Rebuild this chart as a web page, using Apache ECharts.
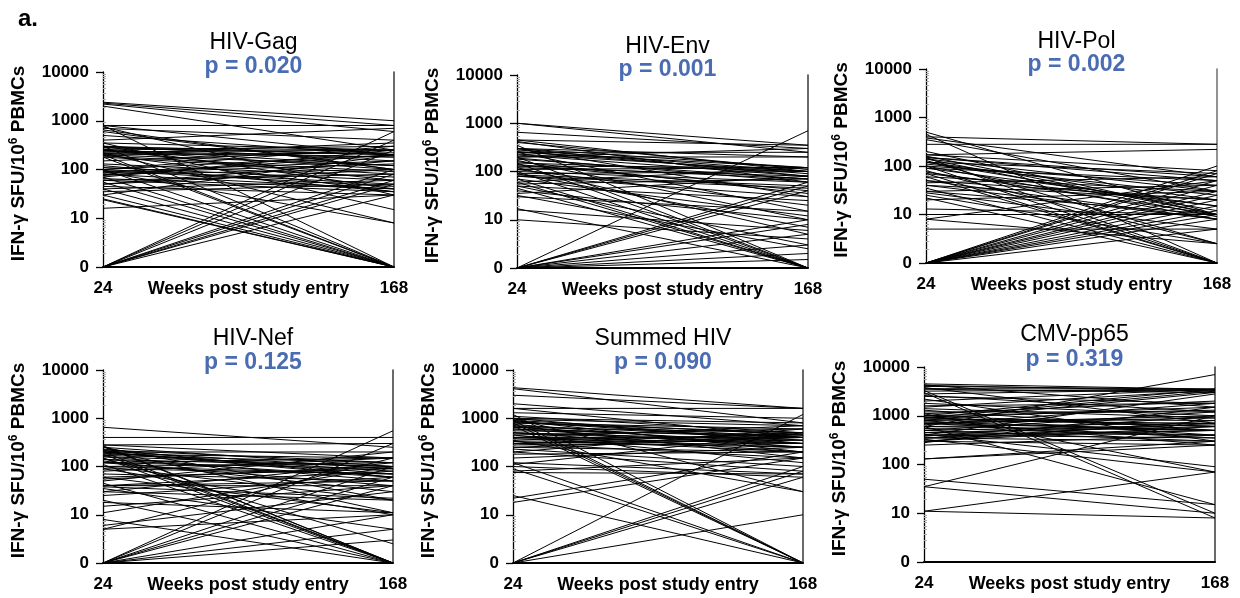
<!DOCTYPE html>
<html>
<head>
<meta charset="utf-8">
<script src="https://cdn.jsdelivr.net/npm/echarts@6/dist/echarts.min.js"></script>
<style>
  html, body { margin: 0; padding: 0; background: #fff; }
  #chart { width: 1240px; height: 598px; }
</style>
</head>
<body>
<div id="chart"></div>
<script>
// values at week 24 and week 168, one entry per subject (0 = no response)
var gag24  = [2400, 2300, 2000, 2200, 800, 800, 800, 750, 700, 650, 400, 350, 350, 300, 300, 300, 280, 250, 250, 250, 230, 220, 220, 200, 200, 200, 180, 180, 150, 100, 100, 100, 100, 90, 90, 80, 80, 70, 70, 60, 60, 55, 50, 50, 45, 40, 40, 35, 30, 30, 25, 24, 16, 0, 0, 0, 0, 0, 0, 0, 0, 0, 0, 120, 130, 600, 500, 300, 280, 260, 240, 200, 190, 110, 95, 85, 65, 75, 210];
var gag168 = [1000, 800, 250, 600, 800, 200, 0, 30, 400, 100, 700, 250, 15, 150, 40, 0, 200, 300, 100, 60, 250, 8, 180, 0, 120, 35, 80, 0, 250, 200, 0, 50, 300, 150, 8, 40, 100, 0, 250, 35, 80, 0, 100, 150, 30, 60, 0, 50, 200, 0, 0, 0, 30, 600, 400, 250, 100, 80, 60, 50, 30, 0, 0, 35, 70, 100, 200, 200, 250, 120, 180, 220, 90, 60, 45, 130, 40, 200, 350];

var env24  = [1000, 1000, 650, 450, 450, 420, 350, 300, 300, 280, 250, 250, 220, 200, 200, 180, 170, 150, 150, 140, 120, 120, 110, 100, 100, 90, 90, 80, 70, 60, 55, 50, 50, 45, 40, 35, 32, 30, 17, 16, 10, 0, 0, 0, 0, 0, 0, 0, 0, 0, 0, 0, 200, 130, 60, 80, 300, 250, 300, 260, 230, 190, 160, 130, 110, 85, 70, 400, 0, 0];
var env168 = [350, 250, 300, 350, 100, 60, 0, 200, 30, 100, 120, 15, 80, 0, 300, 70, 10, 100, 0, 40, 80, 5, 20, 0, 60, 100, 7, 30, 0, 120, 70, 3, 25, 0, 10, 80, 2.5, 15, 0, 6, 4, 700, 60, 50, 40, 10, 8, 5, 3, 2, 0, 0, 200, 120, 0, 45, 80, 250, 120, 90, 100, 60, 35, 70, 120, 50, 12, 110, 0, 1.5];

var pol24  = [500, 450, 400, 380, 350, 280, 170, 170, 160, 150, 150, 140, 130, 120, 110, 100, 100, 90, 80, 75, 70, 60, 50, 45, 40, 35, 30, 28, 25, 22, 20, 13, 10, 8, 8, 5, 0, 0, 0, 0, 0, 0, 0, 0, 0, 0, 0, 200, 60, 120, 150, 140, 120, 100, 90, 70, 50, 40, 30, 0, 0, 0];
var pol168 = [10, 0, 280, 60, 30, 280, 220, 80, 10, 0, 50, 9, 2.5, 70, 25, 0, 40, 15, 2.5, 10, 0, 30, 8, 60, 20, 0, 10, 5, 2.5, 0, 30, 10, 10, 50, 2.5, 5, 100, 80, 70, 50, 40, 30, 20, 15, 10, 8, 0, 10, 0, 20, 60, 30, 12, 8, 50, 15, 20, 8, 40, 25, 12, 5];

var nef24  = [650, 400, 280, 280, 270, 260, 250, 230, 220, 200, 200, 190, 180, 170, 160, 150, 150, 140, 130, 120, 110, 100, 100, 90, 80, 70, 60, 55, 50, 45, 40, 40, 38, 35, 30, 25, 20, 18, 15, 11, 8, 6, 5, 5, 0, 0, 0, 0, 0, 0, 0, 0, 0, 0, 120, 200, 250, 220, 210, 200, 180, 160, 140, 120, 100, 90, 60, 40, 30, 0];
var nef168 = [250, 400, 300, 150, 0, 0, 100, 60, 11, 200, 0, 80, 0, 120, 50, 0, 2.5, 100, 30, 150, 0, 70, 20, 10, 150, 50, 11, 100, 200, 0, 80, 40, 22, 5, 120, 60, 0, 11, 40, 100, 0, 30, 150, 10, 550, 300, 100, 60, 40, 10, 5, 3, 0, 0, 90, 60, 20, 120, 90, 70, 150, 100, 60, 40, 120, 70, 90, 50, 20, 0];

var sum24  = [4300, 4100, 3000, 2000, 1600, 1600, 1300, 1200, 1100, 1000, 1000, 950, 900, 850, 800, 800, 750, 700, 700, 650, 600, 500, 450, 400, 400, 380, 350, 330, 300, 300, 280, 250, 230, 200, 200, 180, 150, 120, 120, 110, 100, 90, 80, 75, 25, 22, 18, 0, 0, 0, 0, 0, 0, 500, 300, 400, 900, 850, 800, 700, 650, 600, 550, 500, 450, 400, 350, 300, 250, 1000, 900];
var sum168 = [1600, 800, 1600, 700, 1600, 400, 1000, 0, 500, 300, 30, 700, 200, 400, 0, 600, 250, 150, 0, 500, 400, 300, 120, 400, 700, 200, 30, 250, 500, 150, 300, 400, 100, 80, 600, 200, 250, 70, 0, 500, 60, 0, 150, 70, 0, 200, 150, 1200, 100, 80, 10, 0, 60, 200, 400, 300, 450, 350, 500, 400, 300, 250, 450, 350, 600, 250, 450, 350, 200, 800, 0];

var cmv24  = [4500, 4300, 4000, 3800, 3500, 3300, 3000, 2800, 2500, 2200, 2000, 1800, 1500, 1300, 1200, 1100, 1000, 1000, 950, 900, 850, 800, 800, 750, 700, 700, 650, 600, 600, 550, 500, 500, 450, 420, 400, 400, 380, 350, 350, 330, 300, 300, 280, 250, 130, 130, 50, 35, 35, 11, 11, 600, 700, 900, 1100, 4200, 3600, 3200, 2600, 1600, 1400, 1000, 900, 800, 700, 600, 500, 450, 400, 350, 300];
var cmv168 = [3500, 1500, 3500, 700, 3000, 10, 8, 3500, 1800, 300, 3500, 1000, 3300, 500, 1200, 70, 3500, 600, 400, 1500, 800, 250, 3000, 500, 1000, 350, 1800, 700, 15, 400, 1200, 300, 600, 90, 2800, 500, 1000, 700, 300, 70, 600, 250, 1500, 400, 300, 250, 15, 1000, 10, 70, 8, 7000, 500, 3200, 2000, 3200, 3500, 3400, 1200, 1800, 900, 1300, 600, 700, 900, 500, 650, 400, 350, 500, 800];

var panelNames = ['HIV-Gag', 'HIV-Env', 'HIV-Pol', 'HIV-Nef', 'Summed HIV', 'CMV-pp65'];
var pValues = ['p = 0.020', 'p = 0.001', 'p = 0.002', 'p = 0.125', 'p = 0.090', 'p = 0.319'];
var weeks = [24, 168];
var yTicks = [1, 10, 100, 1000, 10000];

var panelData = [[gag24, gag168], [env24, env168], [pol24, pol168], [nef24, nef168], [sum24, sum168], [cmv24, cmv168]];

// grid boxes in px: left, top, width, height
var boxes = [
    [103, 72, 291, 195],
    [517, 75, 291, 193],
    [926, 69, 291, 194],
    [103, 370, 290, 193],
    [513, 370, 290, 193],
    [924, 367, 291, 195]
];
var titleTops = [[26, 50], [30, 53], [25, 48], [322, 346], [322, 346], [318, 343]];

var font = '"Liberation Sans", Arial, Helvetica, sans-serif';
var blue = '#4a6cb3';

// 0 sits at the bottom of the log axis
var toLog = function (v) {
    return v <= 0 ? 1 : v;
};

var chart = echarts.init(document.getElementById('chart'));

var grids = [], xAxes = [], yAxes = [], series = [];
var titles = [{
    text: 'a.',
    left: 13, top: 2,
    textStyle: { fontFamily: font, fontSize: 24, fontWeight: 'bold', color: '#000' }
}];

for (var p = 0; p < 6; p++) {
    var b = boxes[p];
    grids.push({ left: b[0], top: b[1], width: b[2], height: b[3], containLabel: false, outerBoundsMode: 'none' });
    var cx = b[0] + b[2] / 2;
    titles.push({
        text: panelNames[p], left: cx, top: titleTops[p][0], textAlign: 'center',
        textStyle: { fontFamily: font, fontSize: 23, fontWeight: 'normal', color: '#000' }
    });
    titles.push({
        text: pValues[p], left: cx, top: titleTops[p][1], textAlign: 'center',
        textStyle: { fontFamily: font, fontSize: 23, fontWeight: 'bold', color: blue }
    });

    xAxes.push({
        type: 'value', gridIndex: p, min: 24, max: 168,
        name: 'Weeks post study entry', nameLocation: 'middle', nameGap: 13, nameMoveOverlap: false,
        nameTextStyle: { fontFamily: font, fontSize: 18, fontWeight: 'bold', color: '#000' },
        axisLine: { show: true, lineStyle: { color: '#000', width: 2 } },
        axisTick: { show: false },
        splitLine: { show: false },
        axisLabel: {
            customValues: weeks, margin: 13,
            fontFamily: font, fontSize: 17, fontWeight: 'bold', color: '#000'
        }
    });

    // main left axis
    yAxes.push({
        type: 'log', logBase: 10, gridIndex: p, min: 1, max: 10000, position: 'left',
        name: '{n|IFN-\u03b3 SFU/10}{s|6}{n| PBMCs}', nameLocation: 'middle', nameGap: 74, nameMoveOverlap: false,
        nameTextStyle: {
            padding: [0, 0, 0, 12],
            rich: {
                n: { fontFamily: font, fontSize: 19, fontWeight: 'bold', color: '#000' },
                s: { fontFamily: font, fontSize: 12, fontWeight: 'bold', color: '#000', verticalAlign: 'top', padding: [0, 0, 9, 0] }
            }
        },
        axisLine: { show: true, lineStyle: { color: '#000', width: 1.3 } },
        axisTick: { show: true, length: 7, lineStyle: { color: '#000', width: 1.3 } },
        splitLine: { show: false },
        axisLabel: {
            customValues: yTicks, margin: 14,
            fontFamily: font, fontSize: 17, fontWeight: 'bold', color: '#000',
            formatter: function (v) { return v <= 1 ? '0' : String(Math.round(v)); }
        }
    });
    // faint minor ticks just inside the left axis (a right-side axis pulled back onto it)
    yAxes.push({
        type: 'log', logBase: 10, gridIndex: p, min: 1, max: 10000, position: 'right', offset: -b[2],
        axisLine: { show: false },
        axisTick: { show: true, length: 0, lineStyle: { opacity: 0 } },
        minorTick: { show: true, splitNumber: 10, length: 3, lineStyle: { color: '#aaa', width: 1 } },
        splitLine: { show: false },
        minorSplitLine: { show: false },
        axisLabel: { show: false }
    });
    // plain vertical line at week 168
    yAxes.push({
        type: 'value', gridIndex: p, min: 0, max: 1, position: 'right',
        axisLine: { show: true, lineStyle: { color: p === 2 ? '#777' : '#444', width: 1.6 } },
        axisTick: { show: false },
        splitLine: { show: false },
        axisLabel: { show: false }
    });

    var a = panelData[p][0], c = panelData[p][1];
    for (var i = 0; i < a.length; i++) {
        series.push({
            type: 'line', xAxisIndex: p, yAxisIndex: p * 3,
            data: [[weeks[0], toLog(a[i])], [weeks[1], toLog(c[i])]],
            symbol: 'none', silent: true, animation: false, clip: false,
            lineStyle: { color: '#000', width: 1 }
        });
    }
}

var option = {
    backgroundColor: '#fff',
    animation: false,
    title: titles,
    grid: grids,
    xAxis: xAxes,
    yAxis: yAxes,
    series: series
};
chart.setOption(option);
</script>
</body>
</html>
